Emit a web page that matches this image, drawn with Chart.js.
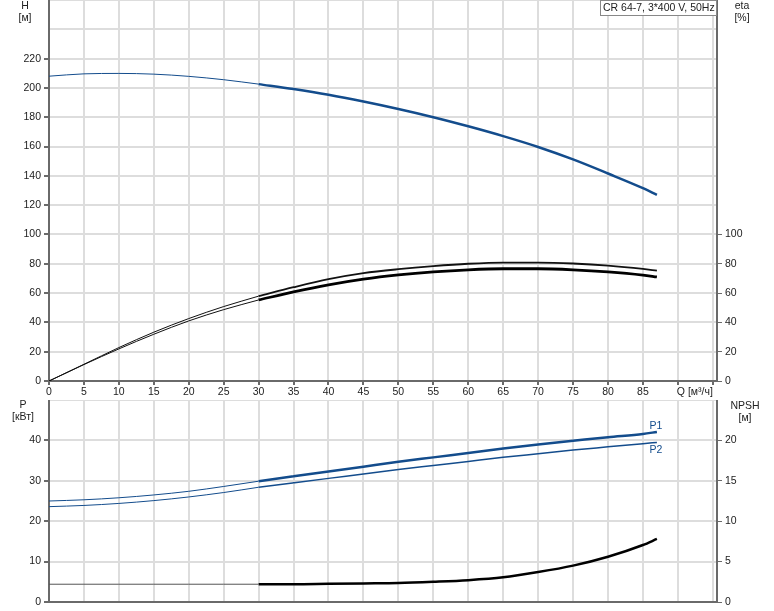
<!DOCTYPE html>
<html>
<head>
<meta charset="utf-8">
<script src="https://cdn.jsdelivr.net/npm/chart.js@4/dist/chart.umd.min.js"></script>
<style>
  html, body { margin: 0; padding: 0; background: #fff; }
  #wrap { position: relative; width: 774px; height: 611px; }
  #top { position: absolute; left: 0; top: 0; }
  #bottom { position: absolute; left: 0; top: 400px; }
</style>
</head>
<body>
<div id="wrap">
  <canvas id="top" width="774" height="400" style="width:774px;height:400px"></canvas>
  <canvas id="bottom" width="774" height="211" style="width:774px;height:211px"></canvas>
</div>
<script>
// pump curve data (Q in m3/h)
const flowQ     = [0, 5, 10, 15, 20, 25, 30, 35, 40, 45, 50, 55, 60, 65, 70, 75, 80, 85, 87];
const headH     = [208, 209.6, 209.9, 209.4, 207.9, 205.6, 202.6, 199.2, 195.3, 190.7, 185.6, 180.0, 173.8, 167.1, 159.7, 151.2, 141.6, 131.6, 127.0];
const etaUpper  = [0, 11.4, 22.8, 33.3, 42.6, 50.8, 57.9, 64, 69.5, 73.6, 76.3, 78.4, 80, 80.8, 80.8, 80.2, 78.8, 76.5, 75.3];
const etaLower  = [0, 11.2, 21.9, 31.9, 41, 48.7, 55.3, 60.8, 65.6, 69.5, 72.4, 74.5, 75.9, 76.6, 76.6, 75.9, 74.5, 72.3, 71.0];
const powerP1   = [25.0, 25.3, 25.8, 26.5, 27.4, 28.6, 29.9, 31.1, 32.3, 33.5, 34.7, 35.8, 36.9, 38.0, 39.0, 39.9, 40.8, 41.6, 42.1];
const powerP2   = [23.6, 23.9, 24.4, 25.1, 26.0, 27.1, 28.4, 29.5, 30.6, 31.7, 32.8, 33.8, 34.8, 35.8, 36.7, 37.6, 38.4, 39.2, 39.5];
const npshValues = [2.2, 2.2, 2.2, 2.2, 2.2, 2.2, 2.2, 2.2, 2.25, 2.3, 2.35, 2.5, 2.7, 3.05, 3.7, 4.5, 5.6, 7.05, 7.8];

const hTicksShown = 220;   // H labels 0..220
const etaTicksShown = 100; // eta labels 0..100
const qTicksShown = 85;
const Q_MAX = 95.6;
const SPLIT = 6; // index of Q=30, where curves turn thick

const FONT = { family: "'Liberation Sans', Arial, sans-serif", size: 10.5 };
const TXT = '#222';
const GRID = '#dddddd';
const AXIS = '#6a6a6a';
const BLUE = '#134c8c';

function pts(ys, from, to) {
  return flowQ.slice(from, to + 1).map((q, i) => ({ x: q, y: ys[from + i] }));
}
function fixWidth(w) {
  return s => { s.width = w; s.paddingTop = 0; s.paddingBottom = 0; };
}
function fixHeight(h) {
  return s => { s.height = h; s.paddingLeft = 0; s.paddingRight = 0; };
}
function line(data, color, width, yAxisID) {
  return {
    data: data, borderColor: color, borderWidth: width, yAxisID: yAxisID,
    pointRadius: 0, fill: false, cubicInterpolationMode: 'monotone'
  };
}
function tickCol(limit) {
  return c => (c.tick && c.tick.value > limit) ? 'rgba(0,0,0,0)' : AXIS;
}
const last = flowQ.length - 1;

// text drawn outside the plot area
const topTexts = {
  id: 'topTexts',
  afterDraw(chart) {
    const c = chart.ctx;
    c.save();
    c.font = FONT.size + 'px ' + FONT.family;
    c.fillStyle = TXT;
    c.textAlign = 'center';
    c.textBaseline = 'middle';
    c.fillText('H', 25, 6);
    c.fillText('[м]', 25, 18);
    c.fillText('eta', 742, 6);
    c.fillText('[%]', 742, 18);
    // Q axis name in place of the 90 label
    c.textAlign = 'left';
    c.fillText('Q [м³/ч]', chart.scales.x.getPixelForValue(90) - 1, 392);
    // pump name box
    c.fillStyle = '#fff';
    c.fillRect(600.5, 0.5, 116, 15);
    c.strokeStyle = '#888';
    c.lineWidth = 1;
    c.strokeRect(600.5, 0.5, 116, 15);
    c.fillStyle = TXT;
    c.fillText('CR 64-7, 3*400 V, 50Hz', 603, 8);
    c.restore();
  }
};

const bottomTexts = {
  id: 'bottomTexts',
  afterDraw(chart) {
    const c = chart.ctx;
    const xs = chart.scales.x, ys = chart.scales.yP;
    c.save();
    c.font = FONT.size + 'px ' + FONT.family;
    c.fillStyle = TXT;
    c.textAlign = 'center';
    c.textBaseline = 'middle';
    c.fillText('P', 23, 5);
    c.fillText('[кВт]', 23, 17);
    c.fillText('NPSH', 745, 6);
    c.fillText('[м]', 745, 18);
    c.fillStyle = BLUE;
    const ex = xs.getPixelForValue(flowQ[last]);
    c.fillText('P1', ex - 1, ys.getPixelForValue(powerP1[last]) - 6);
    c.fillText('P2', ex - 1, ys.getPixelForValue(powerP2[last]) + 8);
    c.restore();
  }
};

const common = {
  responsive: false,
  animation: false,
  devicePixelRatio: 1,
  layout: { padding: 0 },
  plugins: { legend: { display: false }, tooltip: { enabled: false } }
};

new Chart(document.getElementById('top').getContext('2d'), {
  type: 'line',
  data: {
    datasets: [
      line(pts(headH, 0, SPLIT), BLUE, 1, 'yH'),
      line(pts(headH, SPLIT, last), BLUE, 2.5, 'yH'),
      line(pts(etaUpper, 0, SPLIT), '#111', 1, 'yEta'),
      line(pts(etaUpper, SPLIT, last), '#111', 1.8, 'yEta'),
      line(pts(etaLower, 0, SPLIT), '#111', 1, 'yEta'),
      line(pts(etaLower, SPLIT, last), '#000', 2.8, 'yEta')
    ]
  },
  options: Object.assign({}, common, {
    scales: {
      x: {
        type: 'linear', min: 0, max: Q_MAX, afterFit: fixHeight(19),
        ticks: { stepSize: 5, includeBounds: false, autoSkip: false, maxRotation: 0,
                 font: FONT, color: TXT, padding: 1,
                 callback: v => v <= qTicksShown ? v : '' },
        grid: { color: GRID, lineWidth: 2, tickLength: 4, tickColor: AXIS },
        border: { color: AXIS, width: 2 }
      },
      yH: {
        type: 'linear', position: 'left', min: 0, max: 260, afterFit: fixWidth(49),
        ticks: { stepSize: 20, font: FONT, color: TXT, padding: 3,
                 callback: v => v <= hTicksShown ? v : '' },
        grid: { color: GRID, lineWidth: 2, tickLength: 5, tickColor: tickCol(hTicksShown) },
        border: { color: AXIS, width: 2 }
      },
      yEta: {
        type: 'linear', position: 'right', min: 0, max: 260, afterFit: fixWidth(57),
        ticks: { stepSize: 20, font: FONT, color: TXT, padding: 3,
                 callback: v => v <= etaTicksShown ? v : '' },
        grid: { drawOnChartArea: false, tickLength: 5, tickColor: tickCol(etaTicksShown) },
        border: { color: AXIS, width: 2 }
      }
    }
  }),
  plugins: [topTexts]
});

new Chart(document.getElementById('bottom').getContext('2d'), {
  type: 'line',
  data: {
    datasets: [
      line(pts(powerP1, 0, SPLIT), BLUE, 1, 'yP'),
      line(pts(powerP1, SPLIT, last), BLUE, 2.5, 'yP'),
      line(pts(powerP2, 0, SPLIT), BLUE, 1, 'yP'),
      line(pts(powerP2, SPLIT, last), BLUE, 1.5, 'yP'),
      line(pts(npshValues, 0, SPLIT), '#555', 1, 'yN'),
      line(pts(npshValues, SPLIT, last), '#000', 2.5, 'yN')
    ]
  },
  options: Object.assign({}, common, {
    scales: {
      x: {
        type: 'linear', min: 0, max: Q_MAX, afterFit: fixHeight(9),
        ticks: { display: false, stepSize: 5, includeBounds: false },
        grid: { color: GRID, lineWidth: 2, drawTicks: false },
        border: { color: AXIS, width: 2 }
      },
      yP: {
        type: 'linear', position: 'left', min: 0, max: 50, afterFit: fixWidth(49),
        ticks: { stepSize: 10, font: FONT, color: TXT, padding: 3,
                 callback: v => v <= 40 ? v : '' },
        grid: { color: GRID, lineWidth: 2, tickLength: 5, tickColor: tickCol(40) },
        border: { color: AXIS, width: 2 }
      },
      yN: {
        type: 'linear', position: 'right', min: 0, max: 25, afterFit: fixWidth(57),
        ticks: { stepSize: 5, font: FONT, color: TXT, padding: 3,
                 callback: v => v <= 20 ? v : '' },
        grid: { drawOnChartArea: false, tickLength: 5, tickColor: tickCol(20) },
        border: { color: AXIS, width: 2 }
      }
    }
  }),
  plugins: [bottomTexts]
});
</script>
</body>
</html>
